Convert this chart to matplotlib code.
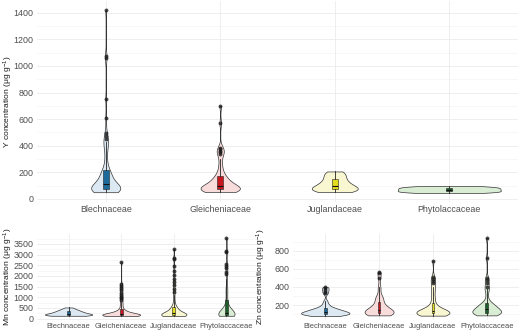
import matplotlib
matplotlib.use('Agg')
import matplotlib.pyplot as plt
import numpy as np
from matplotlib.ticker import MultipleLocator

plt.rcParams['font.family'] = ['Liberation Sans', 'DejaVu Sans']
plt.rcParams['mathtext.fontset'] = 'custom'
plt.rcParams['mathtext.rm'] = 'Liberation Sans'
plt.rcParams['mathtext.default'] = 'regular'

families = ['Blechnaceae', 'Gleicheniaceae', 'Juglandaceae', 'Phytolaccaceae']
violin_fill = ['#dce9f3', '#f8dcdc', '#f9f6d2', '#d9ecd4']
box_fill = ['#1c6b9c', '#c8161e', '#e2dc1c', '#1d5e2b']

# Y concentration (ug/g)
y_blech = [50, 53, 56, 58, 60, 62, 63, 64, 65, 66, 67, 68, 69, 70, 71, 72,
           73, 74, 75, 76, 77, 78, 79, 80, 81, 82, 84, 86, 89, 92, 96, 101,
           108, 115, 122, 129, 136, 143, 150, 157, 164, 171, 178, 185, 191, 196, 200, 204,
           220, 245, 275, 310, 350, 385, 410, 420, 430, 450, 470, 495, 605, 750, 1060, 1075, 1420]
y_gleich = [52, 54, 56, 58, 60, 61, 62, 63, 64, 66, 67, 69,
            71, 73, 75, 77, 79, 81, 83, 85, 88, 90, 93, 96,
            100, 105, 110, 116, 122, 128, 135, 142, 150, 157, 163, 168,
            185, 205, 230, 260, 300, 340, 350, 360, 372, 385, 570, 700]
y_jugl = [52, 56, 60, 64, 68, 72, 77, 82, 88, 95, 103, 112, 122, 133, 145, 158, 172, 186, 198, 206]
y_phyto = [45, 47, 49, 52, 55, 58, 61, 64, 67, 70, 73, 76, 79, 82, 85, 88, 91, 94, 97]

# Mn concentration (ug/g)
mn_blech = [130, 136, 142, 149, 156, 164, 172, 181, 190, 200, 211, 223, 236,
            250, 265, 281, 298, 316, 335, 355, 378, 402, 430, 465, 520]
mn_gleich = [115, 118, 121, 124, 127, 130, 133, 136, 139, 142, 145, 148, 151, 154, 157,
             160, 163, 166, 169, 172, 175, 178, 181, 184, 187, 190, 194, 198, 203, 209,
             216, 223, 231, 240, 250, 262, 275, 290, 306, 324, 342, 362, 382, 398,
             450, 520, 600, 680, 760, 850, 940, 1030, 1120, 1220, 1320, 1420, 1520, 1620, 2640]
mn_jugl = [120, 123, 126, 129, 132, 135, 138, 141, 144, 147, 150, 153, 156, 159, 162, 165,
           168, 171, 174, 177, 180, 184, 188, 192, 196, 200, 205, 210, 216, 222, 230, 240,
           252, 265, 280, 296, 314, 333, 353, 374, 396, 418, 440, 462, 484, 506, 526, 546,
           620, 700, 800, 950, 1100, 1250, 1400, 1550, 1700, 1850, 2050, 2250, 2450, 2800, 2850, 3260]
mn_phyto = [130, 133, 136, 139, 142, 145, 148, 151, 154, 157, 160, 163, 166, 169, 172,
            175, 178, 181, 184, 188, 192, 196, 201, 207, 214, 222, 232, 244, 258, 274,
            292, 312, 334, 358, 384, 412, 442, 472, 500, 518,
            600, 720, 850, 1000, 1200, 1300, 1400, 1500, 1850, 2100, 2200, 2350, 2450, 2550,
            3100, 3150, 3780]

# Zn concentration (ug/g)
zn_blech = [80, 84, 87, 90, 92, 94, 96, 98, 100, 102, 104, 106, 108, 110, 112, 114,
            116, 118, 120, 123, 126, 129, 132, 135, 138, 141, 144, 148, 152, 156, 160,
            165, 170, 178, 190, 205, 225, 250, 330, 345, 370, 385, 400]
zn_gleich = [88, 91, 94, 97, 100, 102, 104, 106, 108, 110, 112, 115, 118, 121, 124,
             127, 130, 134, 138, 142, 147, 152, 158, 164, 171, 178, 186, 194, 200, 215,
             235, 260, 275, 282, 288, 295, 385, 395, 500, 550, 560]
zn_jugl = [85, 88, 91, 94, 96, 98, 100, 102, 104, 106, 108, 110, 112, 114, 116, 118,
           120, 122, 124, 126, 129, 132, 135, 139, 143, 148, 153, 158, 165, 175, 195,
           215, 240, 280, 300, 350, 380, 400, 440, 470, 490, 510, 690]
zn_phyto = [88, 92, 95, 98, 101, 104, 107, 110, 113, 116, 119, 122, 126, 130, 134,
            138, 142, 147, 152, 157, 162, 168, 174, 180, 187, 194, 201, 208, 215, 222,
            240, 290, 350, 380, 400, 440, 480, 500, 720, 940]


def kde(vals, grid):
    # gaussian kernel, bandwidth like R's bw.nrd0
    v = np.asarray(vals, float)
    n = len(v)
    iqr = np.subtract(*np.percentile(v, [75, 25]))
    bw = 0.9 * min(v.std(ddof=1), iqr / 1.34) * n ** -0.2
    z = (grid[:, None] - v[None, :]) / bw
    return np.exp(-0.5 * z ** 2).sum(axis=1) / (n * bw * np.sqrt(2 * np.pi))


def violin_panel(ax, groups, ylabel, major, minor, xsize, label_x):
    grids, dens = [], []
    for g in groups:
        grid = np.linspace(min(g), max(g), 512)
        grids.append(grid)
        dens.append(kde(g, grid))
    dmax = max(d.max() for d in dens)
    for i, (g, grid, d) in enumerate(zip(groups, grids, dens)):
        pos = i + 1
        hw = 0.45 * d / dmax
        ax.fill_betweenx(grid, pos - hw, pos + hw, facecolor=violin_fill[i],
                         edgecolor='#333333', linewidth=0.5, zorder=2)
        ax.boxplot([g], positions=[pos], widths=0.05, patch_artist=True,
                   showcaps=False, zorder=3,
                   boxprops=dict(facecolor=box_fill[i], edgecolor='#222222', linewidth=0.4),
                   whiskerprops=dict(color='#222222', linewidth=0.6),
                   medianprops=dict(color='#111111', linewidth=0.8),
                   flierprops=dict(marker='o', markersize=2.8, markerfacecolor='#1a1a1a',
                                   markeredgecolor='none', alpha=0.8))
    allv = np.concatenate([np.asarray(g, float) for g in groups])
    lo, hi = allv.min(), allv.max()
    pad = 0.05 * (hi - lo)
    ax.set_ylim(lo - pad, hi + pad)
    ax.set_xlim(0.4, len(groups) + 0.6)
    ax.set_xticks(range(1, len(groups) + 1))
    ax.set_xticklabels(families)
    ax.yaxis.set_major_locator(MultipleLocator(major))
    ax.yaxis.set_minor_locator(MultipleLocator(minor))
    ax.grid(which='major', color='#ebebeb', linewidth=0.6, zorder=0)
    ax.grid(which='minor', axis='y', color='#f2f2f2', linewidth=0.4, zorder=0)
    ax.set_axisbelow(True)
    for s in ax.spines.values():
        s.set_visible(False)
    ax.tick_params(which='both', length=0, labelsize=6.4, labelcolor='#4d4d4d', pad=2.5)
    ax.tick_params(axis='x', labelsize=xsize, pad=2)
    ax.set_ylabel(ylabel, fontsize=6.1, color='#1a1a1a')
    ax.yaxis.set_label_coords(label_x, 0.5)


fig = plt.figure(figsize=(5.2, 3.3), dpi=100)
ax_y = fig.add_axes([37 / 520, 1 - 202 / 330, 481 / 520, 201 / 330])
ax_mn = fig.add_axes([37 / 520, 1 - 320 / 330, 221 / 520, 86 / 330])
ax_zn = fig.add_axes([293 / 520, 1 - 320 / 330, 226 / 520, 86 / 330])

violin_panel(ax_y, [y_blech, y_gleich, y_jugl, y_phyto],
             'Y concentration (μg g$^{-1}$)', 200, 100, 6.4, -22 / 481)
violin_panel(ax_mn, [mn_blech, mn_gleich, mn_jugl, mn_phyto],
             'Mn concentration (μg g$^{-1}$)', 500, 250, 5.4, -22 / 221)
violin_panel(ax_zn, [zn_blech, zn_gleich, zn_jugl, zn_phyto],
             'Zn concentration (μg g$^{-1}$)', 200, 100, 5.4, -25 / 226)

fig.savefig('out.png', dpi=100)
